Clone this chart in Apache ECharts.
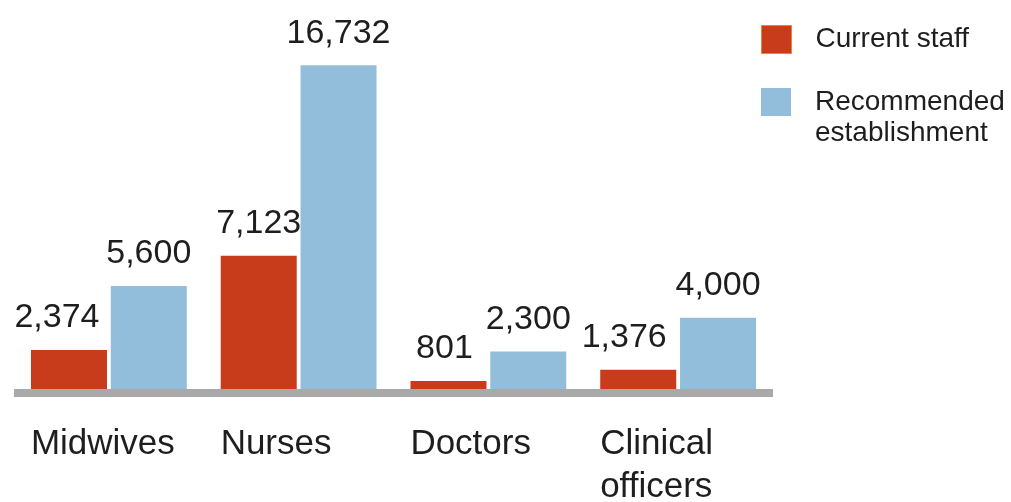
<!DOCTYPE html>
<html>
<head>
<meta charset="utf-8">
<script src="https://cdn.jsdelivr.net/npm/echarts@6/dist/echarts.min.js"></script>
<style>
html,body{margin:0;padding:0;background:#fff;}
#chart{width:1011px;height:502px;}
</style>
</head>
<body>
<div id="chart"></div>
<script>
const categories = ['Midwives', 'Nurses', 'Doctors', 'Clinical\nofficers'];
const currentStaff = [2374, 7123, 801, 1376];
const recommended = [5600, 16732, 2300, 4000];
const seriesNames = ['Current staff', 'Recommended establishment'];

const RED = '#c93c1b';
const BLUE = '#93bedb';
const fmt = v => v.toLocaleString('en-US');
const FONT = '"Liberation Sans", Arial, sans-serif';

// small label nudges for the red values (to avoid crowding, as in the original)
const redLabelShift = [-12, 0, -4, -14];

const chart = echarts.init(document.getElementById('chart'));
chart.setOption({
  animation: false,
  backgroundColor: '#fff',
  grid: { left: 14, right: 238, top: 60, bottom: 105, containLabel: false, outerBoundsMode: 'none' },
  xAxis: {
    type: 'category',
    data: categories,
    z: 3,
    offset: -4,
    axisLine: { show: true, lineStyle: { color: '#a9a9a9', width: 8, cap: 'butt' } },
    axisTick: { show: false },
    axisLabel: {
      margin: 30,
      interval: 0,
      formatter: v => v.split('\n').map(s => '{a|' + s + '}').join('\n'),
      rich: {
        a: { width: 156, align: 'left', fontSize: 35, lineHeight: 43, color: '#1e1e1e', fontFamily: FONT }
      }
    }
  },
  yAxis: { type: 'value', min: 0, max: 17000, show: false, splitLine: { show: false } },
  legend: [
    {
      orient: 'vertical', left: 756, top: 20,
      itemWidth: 30, itemHeight: 28, icon: 'rect',
      selectedMode: false,
      data: [{ name: seriesNames[0], itemStyle: { borderColor: '#e8843e', borderWidth: 1 } }],
      textStyle: { fontSize: 28, fontFamily: FONT, color: '#1e1e1e', padding: [0, 0, 0, 19] }
    },
    {
      orient: 'vertical', left: 756, top: 52,
      itemWidth: 30, itemHeight: 28, icon: 'rect',
      selectedMode: false,
      data: [{ name: seriesNames[1] }],
      formatter: n => '{p| }\n{t|Recommended}\n{t|establishment}',
      textStyle: {
        fontSize: 28, fontFamily: FONT, color: '#1e1e1e', padding: [0, 0, 0, 19],
        rich: {
          p: { fontSize: 28, lineHeight: 31, fontFamily: FONT },
          t: { fontSize: 28, lineHeight: 31, fontFamily: FONT, color: '#1e1e1e' }
        }
      }
    }
  ],
  series: [
    {
      name: seriesNames[0], type: 'bar', barWidth: 76, barGap: '5%',
      itemStyle: { color: RED },
      data: currentStaff.map((v, i) => ({ value: v, label: { offset: [redLabelShift[i], 0] } })),
      label: { show: true, position: 'top', distance: 15, formatter: p => fmt(p.value), fontSize: 34, fontFamily: FONT, color: '#1e1e1e' }
    },
    {
      name: seriesNames[1], type: 'bar', barWidth: 76, barGap: '5%',
      itemStyle: { color: BLUE },
      data: recommended,
      label: { show: true, position: 'top', distance: 15, formatter: p => fmt(p.value), fontSize: 34, fontFamily: FONT, color: '#1e1e1e' }
    }
  ]
});
</script>
</body>
</html>
